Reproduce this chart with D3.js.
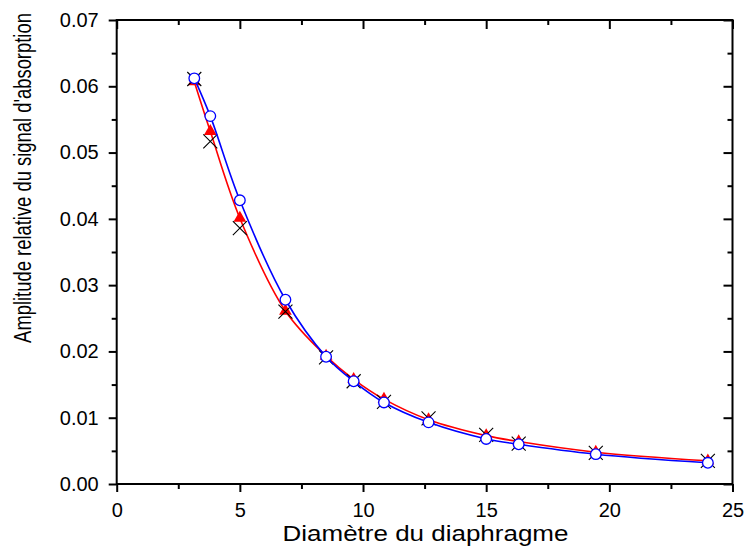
<!DOCTYPE html>
<html>
<head>
<meta charset="utf-8">
<script src="https://cdn.jsdelivr.net/npm/d3@7"></script>
<style>
  body { margin: 0; background: #fff; }
  text { font-family: "Liberation Sans", Arial, sans-serif; fill: #000; }
</style>
</head>
<body>
<svg id="svg1" width="747" height="552"></svg>
<script>
// diaphragm diameters (x) and the three measured series
const diameters = [3.15, 3.8, 5.0, 6.85, 8.5, 9.62, 10.85, 12.66, 15.0, 16.32, 19.45, 24.0];
const crossVals = [0.0611, 0.0517, 0.0386, 0.0260, 0.0191, 0.0155, 0.0124, 0.0099, 0.0074, 0.0061, 0.0047, 0.0035];
const triVals   = [0.0607, 0.0532, 0.0401, 0.0261, 0.0193, 0.0158, 0.0128, 0.0097, 0.0073, 0.0064, 0.0048, 0.0035];
const circVals  = [0.0612, 0.0555, 0.0428, 0.0278, 0.0192, 0.0155, 0.0123, 0.0093, 0.0068, 0.0060, 0.0045, 0.0032];
const xTicks = [0, 5, 10, 15, 20, 25];
const yTicks = [0, 0.01, 0.02, 0.03, 0.04, 0.05, 0.06, 0.07];

const xTitle = 'Diamètre du diaphragme';
const yTitle = "Amplitude relative du signal d'absorption";

const svg = d3.select('#svg1');
const width = +svg.attr('width');
const height = +svg.attr('height');
const margin = { top: 20, right: 14.5, bottom: 68, left: 116.7 };
const innerWidth = width - margin.left - margin.right;
const innerHeight = height - margin.top - margin.bottom;

const xScale = d3.scaleLinear().domain([0, 25]).range([0, innerWidth]);
const yScale = d3.scaleLinear().domain([0, 0.07]).range([innerHeight, 0]);

const g = svg.append('g')
  .attr('transform', `translate(${margin.left},${margin.top})`);

// minor ticks halfway between majors
const xMinor = d3.range(2.5, 25, 5);
const yMinor = d3.range(0.005, 0.07, 0.01);

const styleAxis = sel => {
  sel.select('.domain').remove();
  sel.selectAll('.tick line').attr('stroke', '#000').attr('stroke-width', 2);
  sel.selectAll('text').style('font-size', '20px').attr('fill', '#000');
};
// tick-only axes: drop the empty labels
const ticksOnly = sel => {
  styleAxis(sel);
  sel.selectAll('text').remove();
};

// bottom axis (ticks out)
g.append('g').attr('transform', `translate(0,${innerHeight})`)
  .call(d3.axisBottom(xScale).tickValues(xTicks).tickSize(8).tickPadding(11).tickFormat(d3.format('d')))
  .call(styleAxis);
g.append('g').attr('transform', `translate(0,${innerHeight})`)
  .call(d3.axisBottom(xScale).tickValues(xMinor).tickSize(5))
  .call(ticksOnly);

// left axis (ticks out)
g.append('g')
  .call(d3.axisLeft(yScale).tickValues(yTicks).tickSize(8).tickPadding(10).tickFormat(d3.format('.2f')))
  .call(styleAxis);
g.append('g')
  .call(d3.axisLeft(yScale).tickValues(yMinor).tickSize(5))
  .call(ticksOnly);

// top axis (ticks in)
g.append('g')
  .call(d3.axisBottom(xScale).tickValues(xTicks).tickSize(9))
  .call(ticksOnly);
g.append('g')
  .call(d3.axisBottom(xScale).tickValues(xMinor).tickSize(5))
  .call(ticksOnly);

// right axis (ticks in)
g.append('g').attr('transform', `translate(${innerWidth},0)`)
  .call(d3.axisLeft(yScale).tickValues(yTicks).tickSize(9))
  .call(ticksOnly);
g.append('g').attr('transform', `translate(${innerWidth},0)`)
  .call(d3.axisLeft(yScale).tickValues(yMinor).tickSize(5))
  .call(ticksOnly);

// frame
g.append('rect')
  .attr('width', innerWidth).attr('height', innerHeight)
  .attr('fill', 'none').attr('stroke', '#000').attr('stroke-width', 2);

const rows = diameters.map((d, i) => ({ x: d, cross: crossVals[i], tri: triVals[i], circ: circVals[i] }));

const lineFor = key => d3.line()
  .x(d => xScale(d.x))
  .y(d => yScale(d[key]))
  .curve(d3.curveCatmullRom.alpha(0.5));

// red series
g.append('path').datum(rows)
  .attr('d', lineFor('tri'))
  .attr('fill', 'none').attr('stroke', '#ff0000').attr('stroke-width', 1.6);

g.selectAll('.tri').data(rows).enter().append('path')
  .attr('class', 'tri')
  .attr('transform', d => `translate(${xScale(d.x)},${yScale(d.tri)})`)
  .attr('d', d3.symbol(d3.symbolTriangle, 70)())
  .attr('fill', '#ff0000');

// black crosses
g.selectAll('.cross').data(rows).enter().append('path')
  .attr('class', 'cross')
  .attr('transform', d => `translate(${xScale(d.x)},${yScale(d.cross)})`)
  .attr('d', 'M-7,-7L7,7M-7,7L7,-7')
  .attr('fill', 'none').attr('stroke', '#000').attr('stroke-width', 1.1);

// blue series
g.append('path').datum(rows)
  .attr('d', lineFor('circ'))
  .attr('fill', 'none').attr('stroke', '#0000ff').attr('stroke-width', 1.6);

g.selectAll('.circ').data(rows).enter().append('circle')
  .attr('class', 'circ')
  .attr('cx', d => xScale(d.x))
  .attr('cy', d => yScale(d.circ))
  .attr('r', 5.3)
  .attr('fill', '#fff').attr('stroke', '#0000ff').attr('stroke-width', 1.3);

// axis titles, squeezed/stretched along their run to the reference length
const xt = svg.append('text')
  .attr('text-anchor', 'middle')
  .style('font-size', '22px')
  .text(xTitle);
const xtLen = xt.node().getComputedTextLength();
xt.attr('transform', `translate(425.5,541) scale(${286 / xtLen},1)`);

const yt = svg.append('text')
  .attr('text-anchor', 'middle')
  .style('font-size', '24px')
  .text(yTitle);
const ytLen = yt.node().getComputedTextLength();
yt.attr('transform', `translate(31,178) rotate(-90) scale(${330 / ytLen},1)`);
</script>
</body>
</html>
